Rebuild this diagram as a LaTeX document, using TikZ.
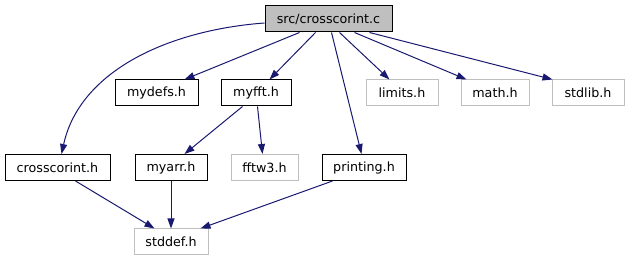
\documentclass[tikz,border=0pt]{standalone}
\usepackage{fontspec}
\setmainfont{DejaVu Sans}
\usetikzlibrary{arrows.meta}
\definecolor{edgeblue}{HTML}{191970}
\definecolor{sysgrey}{HTML}{BFBFBF}
\begin{document}
\begin{tikzpicture}[x=1pt,y=-1pt,
  box/.style={draw=black,line width=1pt,inner sep=0pt,minimum height=26pt,font=\fontsize{12.7}{14}\selectfont,text=black},
  sysbox/.style={box,draw=sysgrey},
  topbox/.style={box,fill=sysgrey},
  dep/.style={draw=edgeblue,line width=1pt,-{Triangle[length=10pt,width=7pt]},color=edgeblue}]
\useasboundingbox (0,0) rectangle (629,261);
\node[topbox,minimum width=127pt] (c) at (328.5,19) {src/crosscorint.c};
\node[box,minimum width=83pt] (mydefs) at (156.5,93) {mydefs.h};
\node[box,minimum width=70pt] (myfft) at (256,93) {myfft.h};
\node[sysbox,minimum width=72pt] (limits) at (402,93) {limits.h};
\node[sysbox,minimum width=68pt] (math) at (495,93) {math.h};
\node[sysbox,minimum width=72pt] (stdlib) at (588,93) {stdlib.h};
\node[box,minimum width=105pt] (cch) at (57.5,167.5) {crosscorint.h};
\node[box,minimum width=72pt] (myarr) at (171,167.5) {myarr.h};
\node[sysbox,minimum width=67pt] (fftw) at (264.5,167.5) {fftw3.h};
\node[box,minimum width=84pt] (printing) at (364,167.5) {printing.h};
\node[sysbox,minimum width=74pt] (stddef) at (171,242) {stddef.h};
% edges from main file
\draw[dep] ([yshift=-4pt]c.west) .. controls (170,30) and (80,70) .. ([xshift=57pt]cch.north west);
\draw[dep] ([xshift=35pt]c.south west) -- ([xshift=70pt]mydefs.north west);
\draw[dep] ([xshift=51pt]c.south west) -- ([xshift=49pt]myfft.north west);
\draw[dep] ([xshift=67pt]c.south west) -- ([xshift=40pt]printing.north west);
\draw[dep] ([xshift=75pt]c.south west) -- ([xshift=24pt]limits.north west);
\draw[dep] ([xshift=90pt]c.south west) -- ([xshift=6pt]math.north west);
\draw[dep] ([xshift=105pt]c.south west) -- ([xshift=1pt]stdlib.north west);
% myfft
\draw[dep] ([xshift=22pt]myfft.south west) -- ([xshift=50pt]myarr.north west);
\draw[dep] ([xshift=37pt]myfft.south west) -- ([xshift=32pt]fftw.north west);
% to stddef
\draw[dep] ([xshift=71pt]cch.south west) -- ([xshift=21pt]stddef.north west);
\draw[dep] (myarr.south) -- (stddef.north);
\draw[dep] ([xshift=11pt]printing.south west) -- ([xshift=67pt]stddef.north west);
\end{tikzpicture}
\end{document}
